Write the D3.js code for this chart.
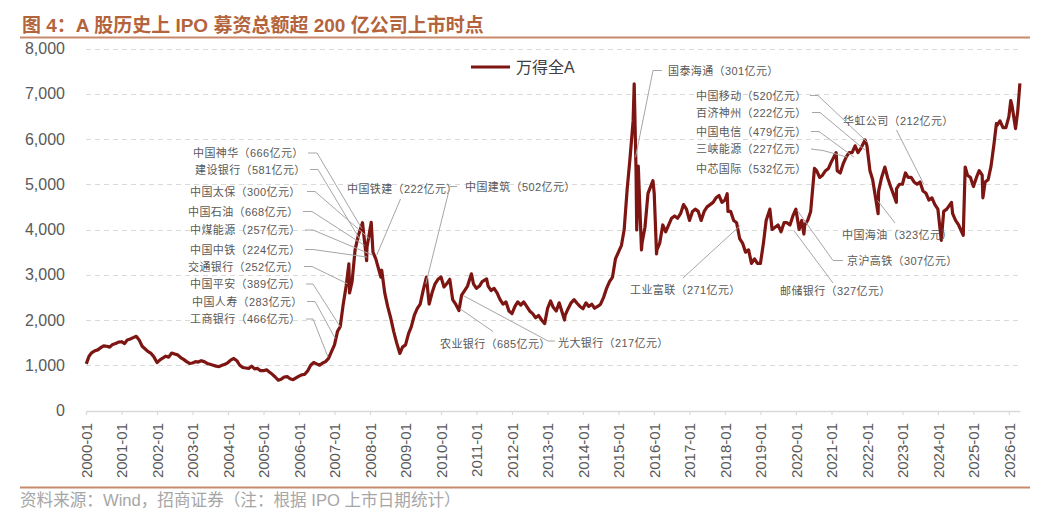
<!DOCTYPE html>
<html><head><meta charset="utf-8">
<script src="https://cdn.jsdelivr.net/npm/d3@7"></script>
<style>body{margin:0;background:#fff;} svg{display:block;}</style>
</head><body><svg id="chart" width="1058" height="526"></svg>
<script>
// ---------- DATA ----------
const seriesName = "万得全A";
const seriesDates = [
 "2000-01-04","2000-02","2000-03","2000-04","2000-05","2000-06","2000-07","2000-08","2000-09","2000-10","2000-11","2000-12",
 "2001-01","2001-02","2001-03","2001-04","2001-05","2001-06","2001-07","2001-08","2001-09","2001-10","2001-11","2001-12",
 "2002-01","2002-02","2002-03","2002-04","2002-05","2002-06","2002-07","2002-08","2002-09","2002-10","2002-11","2002-12",
 "2003-01","2003-02","2003-03","2003-04","2003-05","2003-06","2003-07","2003-08","2003-09","2003-10","2003-11","2003-12",
 "2004-01","2004-02","2004-03","2004-04","2004-05","2004-06","2004-07","2004-08","2004-09","2004-10","2004-11","2004-12",
 "2005-01","2005-02","2005-03","2005-04","2005-05","2005-06","2005-07","2005-08","2005-09","2005-10","2005-11","2005-12",
 "2006-01","2006-02","2006-03","2006-04","2006-05","2006-06","2006-07","2006-08","2006-09","2006-10","2006-11","2006-12",
 "2007-01","2007-02","2007-03","2007-04","2007-05","2007-05-29","2007-06-05","2007-07","2007-08","2007-09","2007-10-16","2007-11-28","2007-12",
 "2008-01-14","2008-02","2008-03","2008-04-22","2008-05","2008-06","2008-07","2008-08","2008-09","2008-10","2008-11-04","2008-12",
 "2009-01","2009-02","2009-03","2009-04","2009-05","2009-06","2009-07","2009-08-04","2009-09","2009-10","2009-11","2009-12",
 "2010-01","2010-02","2010-03","2010-04","2010-05","2010-06","2010-07-05","2010-08","2010-09","2010-10","2010-11-10","2010-12",
 "2011-01","2011-02","2011-03","2011-04-15","2011-05","2011-06","2011-07","2011-08","2011-09","2011-10","2011-11","2011-12",
 "2012-01","2012-02","2012-03","2012-04","2012-05","2012-06","2012-07","2012-08","2012-09","2012-10","2012-11","2012-12-03",
 "2013-01","2013-02","2013-03","2013-04","2013-05","2013-06-25","2013-07","2013-08","2013-09","2013-10","2013-11","2013-12",
 "2014-01","2014-02","2014-03","2014-04","2014-05","2014-06","2014-07","2014-08","2014-09","2014-10","2014-11","2014-12",
 "2015-01","2015-02","2015-03","2015-04","2015-05","2015-06","2015-06-12","2015-07","2015-07-08","2015-07-24","2015-08-26","2015-09","2015-10","2015-11","2015-12-22",
 "2016-01-04","2016-01-28","2016-02","2016-03","2016-04","2016-05","2016-06","2016-07","2016-08","2016-09","2016-10","2016-11","2016-12",
 "2017-01","2017-02","2017-03","2017-04","2017-05","2017-06","2017-07","2017-08","2017-09","2017-10","2017-11","2017-12",
 "2018-01","2018-01-24","2018-02","2018-03","2018-04","2018-05","2018-06","2018-07","2018-08","2018-09","2018-10","2018-11","2018-12",
 "2019-01","2019-02","2019-03","2019-04-08","2019-05","2019-06","2019-07","2019-08","2019-09","2019-10","2019-11","2019-12",
 "2020-01","2020-02-03","2020-03","2020-03-23","2020-04","2020-05","2020-06","2020-07-10","2020-08","2020-09","2020-10","2020-11","2020-12",
 "2021-01","2021-02-18","2021-03","2021-04","2021-05","2021-06","2021-07","2021-08","2021-09","2021-10","2021-11","2021-12-13",
 "2022-01","2022-02","2022-03","2022-04-26","2022-05","2022-06","2022-07-05","2022-08","2022-09","2022-10-31","2022-11","2022-12",
 "2023-01","2023-02","2023-03","2023-04","2023-05","2023-06","2023-07","2023-08","2023-09","2023-10","2023-11","2023-12",
 "2024-01","2024-02-05","2024-03","2024-04","2024-05-20","2024-06","2024-07","2024-08","2024-09-18","2024-10-08","2024-11","2024-12",
 "2025-01","2025-02","2025-03","2025-04-01","2025-04-08","2025-05","2025-06","2025-07","2025-08","2025-08-25","2025-09","2025-10","2025-11","2025-12",
 "2026-01","2026-01-20","2026-02","2026-03-10","2026-04","2026-04-24"
];
const seriesValues = [
 1030,1200,1280,1320,1340,1390,1430,1420,1400,1460,1480,1510,
 1520,1480,1560,1580,1610,1640,1560,1420,1360,1300,1260,1180,
 1060,1120,1160,1200,1180,1270,1250,1230,1170,1130,1080,1040,
 1050,1080,1070,1100,1080,1040,1020,1000,980,970,1000,1020,
 1060,1120,1150,1100,1000,950,940,930,980,920,930,880,
 880,900,850,800,740,670,690,740,750,700,680,720,
 760,790,800,880,1000,1060,1030,1000,1050,1080,1150,1300,
 1450,1750,1850,2350,2750,3240,2600,2850,3550,3850,4150,3310,3600,
 4160,3500,3350,2950,3100,2600,2300,2050,1750,1500,1260,1400,
 1450,1700,1850,2100,2250,2350,2650,2950,2350,2600,2800,2900,
 2950,2730,2800,2900,2450,2350,2210,2550,2650,2750,3020,2800,
 2700,2750,2850,2910,2750,2650,2700,2600,2450,2350,2400,2200,
 2140,2300,2400,2330,2400,2300,2200,2140,2050,2100,2000,1920,
 2250,2420,2280,2200,2380,2000,2100,2250,2380,2450,2370,2300,
 2250,2380,2300,2350,2260,2300,2350,2500,2700,2850,2950,3350,
 3500,3650,4000,4900,5600,6400,7220,5300,3990,5400,3550,3700,4050,4800,5080,
 4800,3460,3550,3700,4100,3950,4100,4250,4300,4250,4350,4550,4450,
 4200,4400,4450,4400,4200,4400,4500,4550,4600,4700,4750,4600,
 4650,4790,4400,4400,4200,4150,3800,3700,3500,3550,3250,3350,3250,
 3250,3700,4200,4450,4000,4050,4100,3950,4150,4150,4100,4300,
 4450,4000,4200,3900,4100,4200,4400,5350,5300,5150,5200,5300,5350,
 5500,5700,5300,5250,5450,5600,5700,5700,5850,5700,5800,5980,
 5850,5300,5100,4350,4850,5150,5380,5150,4950,4600,4900,5000,
 5000,5250,5150,5150,5050,5000,5050,4850,4800,4650,4700,4550,
 4450,3760,4400,4450,4600,4350,4200,4100,3870,5380,5200,5150,
 4950,5150,5300,5200,4700,5050,5100,5400,5900,6340,6300,6400,6250,6250,
 6500,6850,6750,6230,6600,7230
];
const yTickValues = [0,1000,2000,3000,4000,5000,6000,7000,8000];
const xTickLabels = ["2000-01","2001-01","2002-01","2003-01","2004-01","2005-01","2006-01","2007-01","2008-01","2009-01","2010-01","2011-01","2012-01","2013-01","2014-01","2015-01","2016-01","2017-01","2018-01","2019-01","2020-01","2021-01","2022-01","2023-01","2024-01","2025-01","2026-01"];

const ipoNames = ["中国神华","建设银行","中国太保","中国石油","中煤能源","中国中铁","交通银行","中国平安","中国人寿","工商银行","中国铁建","中国建筑","农业银行","光大银行","国泰海通","中国移动","百济神州","中国电信","三峡能源","中芯国际","华虹公司","中国海油","京沪高铁","邮储银行","工业富联"];
const ipoAmounts = [666,581,300,668,257,224,252,389,283,466,222,502,685,217,301,520,222,479,227,532,212,323,307,327,271];
const ipoDates = ["2007-10-09","2007-09-25","2007-12-25","2007-11-05","2008-02-01","2007-12-03","2007-05-15","2007-03-01","2007-01-09","2006-10-27","2008-03-10","2009-07-29","2010-07-15","2010-08-18","2015-06-26","2022-01-05","2021-12-15","2021-08-20","2021-06-10","2020-07-16","2023-08-07","2022-04-21","2020-01-16","2019-12-10","2018-06-08"];
const ipoLevels = [4020,3760,3800,3650,3430,3390,2800,1850,1590,1180,3430,2800,2250,2540,5600,5930,5750,5600,5600,5300,5010,4640,4420,3980,4090];

const titleText = "图 4：A 股历史上 IPO 募资总额超 200 亿公司上市时点";
const sourceText = "资料来源：Wind，招商证券（注：根据 IPO 上市日期统计）";

// ---------- LAYOUT (positions of annotation labels and leader bends) ----------
const labelLayout = [
 {x:193,y:153,lead:[[308,153],[317,153]]},
 {x:195,y:169.5,lead:[[310,169.5],[318,169.5]]},
 {x:190,y:191.5,lead:[[307,191.5],[315,191.5]]},
 {x:188,y:211.5,lead:[[303,211.5],[312,211.5]]},
 {x:190,y:230,lead:[[305,230],[313,230]]},
 {x:190,y:249.5,lead:[[305,249.5],[313,249.5]]},
 {x:188,y:266.5,lead:[[304,266.5],[312,266.5]]},
 {x:190,y:284,lead:[[306,284],[313,284]]},
 {x:192,y:301.5,lead:[[307,301.5],[315,301.5]]},
 {x:190,y:319,lead:[[306,319],[313,319]]},
 {x:347,y:188.5,lead:[[400.5,199]]},
 {x:465,y:186.5,lead:[[457,186.5],[450,186.5]]},
 {x:440,y:343.5,lead:[[493,331.5]]},
 {x:558,y:343,lead:[[555,341],[548,341]]},
 {x:668,y:70.5,lead:[[662,70.5],[653,70.5]]},
 {x:696,y:95.5,lead:[[810,95.5],[818,95.5]]},
 {x:696,y:112.5,lead:[[812,112.5],[820,112.5]]},
 {x:696,y:131.5,lead:[[811,131.5],[819,131.5]]},
 {x:696,y:149,lead:[[811,149],[823,150.5]]},
 {x:696,y:169,lead:null},
 {x:843,y:120.5,lead:[[896.5,130]]},
 {x:842,y:234.5,lead:[[895,223]]},
 {x:847,y:260.5,lead:[[843,260.5],[833,260.5]]},
 {x:780,y:290.5,lead:[[833,283]]},
 {x:630,y:290,lead:[[683,278]]}
];

// ---------- DRAW ----------
const svg = d3.select("#chart");
const parse = s => (s.length === 7 ? d3.timeParse("%Y-%m")(s) : d3.timeParse("%Y-%m-%d")(s));
const data = seriesDates.map((d,i)=>({date:parse(d), value:seriesValues[i]}));

const x = d3.scaleTime().domain([parse("2000-01-01"), parse("2026-04-25")]).range([86, 1020]);
const y = d3.scaleLinear().domain([0, 8000]).range([410.5, 48.5]);

const titleColor = "#b4643c";
const ruleColor = "#c98a6b";
const textGrey = "#595959";
const font = "'Liberation Sans', Arial, 'Noto Sans CJK SC', sans-serif";

// title
svg.append("text").attr("x",22).attr("y",25).attr("dominant-baseline","central")
  .attr("font-family",font).attr("font-size",19).attr("font-weight","bold")
  .attr("fill",titleColor).text(titleText);
svg.append("line").attr("x1",20).attr("x2",1030).attr("y1",37.5).attr("y2",37.5)
  .attr("stroke",ruleColor).attr("stroke-width",2);

// gridlines
svg.append("g").selectAll("line").data(yTickValues.filter(v=>v>0)).join("line")
  .attr("x1",86).attr("x2",1020).attr("y1",d=>Math.round(y(d))+0.5).attr("y2",d=>Math.round(y(d))+0.5)
  .attr("stroke","#d9d9d9").attr("stroke-width",1).attr("stroke-dasharray","5,4");

// y labels
svg.append("g").selectAll("text").data(yTickValues).join("text")
  .attr("x",65).attr("y",d=>y(d)).attr("text-anchor","end").attr("dominant-baseline","central")
  .attr("font-family",font).attr("font-size",16).attr("fill",textGrey)
  .text(d=>d3.format(",")(d));

// x axis
const xAxis = d3.axisBottom(x).tickValues(xTickLabels.map(parse))
  .tickFormat(d3.timeFormat("%Y-%m")).tickSize(4).tickSizeOuter(0);
const gx = svg.append("g").attr("transform","translate(0,411)").call(xAxis);
gx.select(".domain").attr("stroke","#d9d9d9").attr("stroke-width",1.5);
gx.selectAll(".tick line").attr("stroke","#d9d9d9").attr("stroke-width",1.2);
gx.selectAll(".tick text").attr("font-family",font).attr("font-size",15).attr("fill",textGrey)
  .attr("transform","rotate(-90)").attr("text-anchor","end")
  .attr("x",-12).attr("y",0).attr("dy","0.35em");

// series line
const line = d3.line().x(d=>x(d.date)).y(d=>y(d.value)).curve(d3.curveLinear);
svg.append("path").datum(data).attr("d",line).attr("fill","none")
  .attr("stroke","#7d1612").attr("stroke-width",3.2).attr("stroke-linejoin","round");

// annotations
const annG = svg.append("g");
ipoNames.forEach((name,i)=>{
  const L = labelLayout[i];
  if (L.lead) {
    const pts = L.lead.concat([[x(parse(ipoDates[i])), y(ipoLevels[i])]]);
    annG.append("path").attr("d", d3.line()(pts)).attr("fill","none")
      .attr("stroke","#a6a6a6").attr("stroke-width",1);
  }
  annG.append("text").attr("x",L.x).attr("y",L.y).attr("dominant-baseline","central")
    .attr("font-family",font).attr("font-size",11).attr("letter-spacing",0.4).attr("fill",textGrey)
    .text(`${name}（${ipoAmounts[i]}亿元）`);
});

// legend
svg.append("line").attr("x1",471).attr("x2",510).attr("y1",67).attr("y2",67)
  .attr("stroke","#7d1612").attr("stroke-width",3.2);
svg.append("text").attr("x",516).attr("y",67).attr("dominant-baseline","central")
  .attr("font-family",font).attr("font-size",16).attr("fill","#404040").text(seriesName);

// footer
svg.append("line").attr("x1",20).attr("x2",1030).attr("y1",487.5).attr("y2",487.5)
  .attr("stroke",ruleColor).attr("stroke-width",2);
svg.append("text").attr("x",20).attr("y",500).attr("dominant-baseline","central")
  .attr("font-family",font).attr("font-size",16.6).attr("fill","#a6a6a6").text(sourceText);
</script></body></html>
